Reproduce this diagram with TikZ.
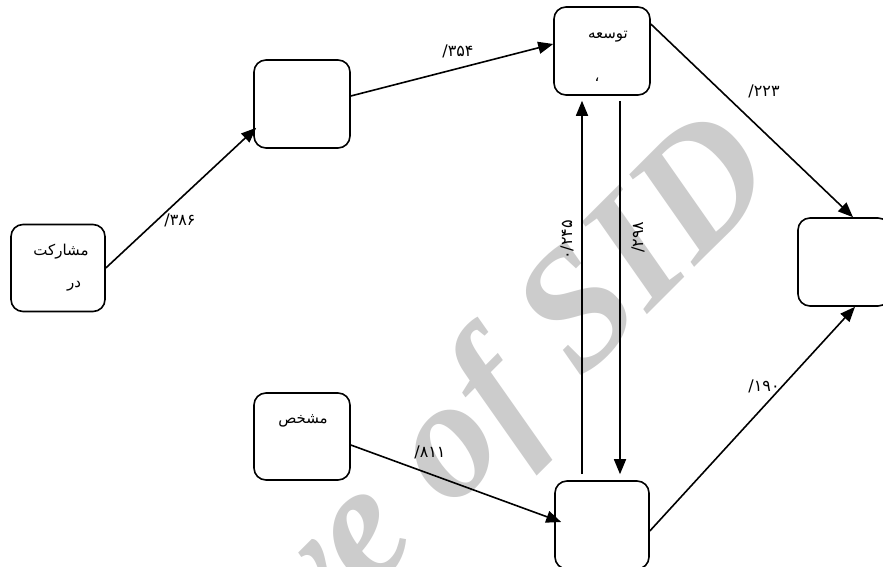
\documentclass[tikz,border=0pt]{standalone}
\usepackage{fontspec}
\usetikzlibrary{arrows.meta,calc}
\newfontfamily\arfont[Script=Arabic]{DejaVu Sans}
\newfontfamily\wmfont{Liberation Serif}
\TeXXeTstate=1
\newcommand{\slashnum}[1]{\hbox{/}\hbox{#1}}
\begin{document}
\begin{tikzpicture}[x=1pt,y=-1pt,
  box/.style={draw,line width=1.6pt,rounded corners=12pt,inner sep=0pt},
  conn/.style={line width=1.6pt,-{Triangle[length=15pt,width=12pt]}},
  lbl/.style={font=\arfont\fontsize{16}{18}\selectfont,inner sep=1pt},
  word/.style={font=\arfont\fontsize{15}{17}\selectfont,inner sep=1pt},
  wm/.style={font=\wmfont\bfseries\itshape\fontsize{170}{170}\selectfont,text=black!20,inner sep=0pt}]
\clip (0,0) rectangle (883,567);
\fill[white] (0,0) rectangle (883,567);
% watermark
\node[wm,rotate=45,anchor=base east] (wmk) at (782,180) {Archive of SID};
% boxes
\node[box,minimum width=94pt,minimum height=87pt] (A) at (58,268) {};
\node[box,minimum width=96pt,minimum height=88pt] (B) at (302,104) {};
\node[box,minimum width=96pt,minimum height=88pt] (C) at (602,51) {};
\node[box,minimum width=92pt,minimum height=88pt] (D) at (844,262) {};
\node[box,minimum width=96pt,minimum height=87pt] (E) at (302,436.5) {};
\node[box,minimum width=94pt,minimum height=88pt] (F) at (602,525) {};
% texts in boxes
\node[word] (a1) at (61,252) {\beginR مشارکت\endR};
\node[word] (a2) at (74,286) {\beginR در\endR};
\node[word] (c1) at (608,37) {\beginR توسعه\endR};
\node[word] (c2) at (597,80) {\beginR ،\endR};
\node[word] (e1) at (303,421) {\beginR مشخص\endR};
% connectors
\draw[conn] (A.east) -- ($(B.south west)+(3,-21)$);
\draw[conn] ($(B.east)+(0,-8)$) -- ($(C.west)+(0,-7)$);
\draw[conn] ($(C.east)+(0,-27)$) -- ($(D.north)+(9,0)$);
\draw[conn] ($(F.east)+(0,6)$) -- ($(D.south)+(11,0)$);
\draw[conn] ($(E.east)+(0,8.5)$) -- ($(F.west)+(7,-3)$);
\draw[conn,shorten >=5pt] ($(F.north)+(-20,-6)$) -- ($(C.south)+(-20,0)$);
\draw[conn,shorten <=5pt] ($(C.south)+(18,0)$) -- ($(F.north)+(18,-6)$);
% labels
\node[lbl] (l1) at (180,220) {\slashnum{۳۸۶}};
\node[lbl] (l2) at (458,51) {\slashnum{۳۵۴}};
\node[lbl] (l3) at (764,91) {\slashnum{۲۲۳}};
\node[lbl] (l4) at (764,386) {\slashnum{۱۹۰}};
\node[lbl] (l5) at (430,452) {\slashnum{۸۱۱}};
\node[lbl,rotate=90] (l6) at (567,240) {\hbox{۰}\hbox{/}\hbox{۲۴۵}};
\node[lbl,rotate=90] (l7) at (638,237) {\slashnum{۲۹۸}};
\end{tikzpicture}
\end{document}
